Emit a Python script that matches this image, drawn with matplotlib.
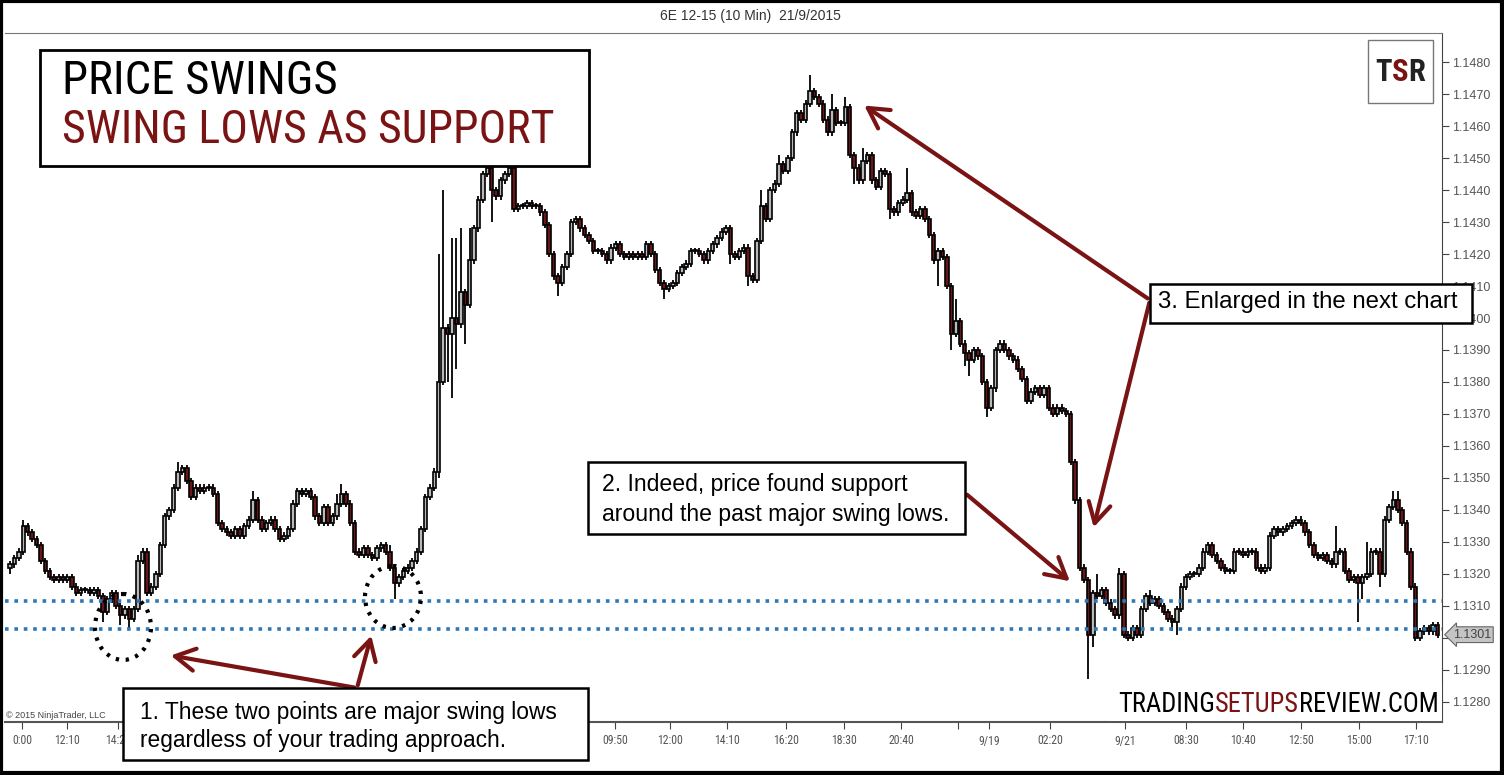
import matplotlib
matplotlib.use("Agg")
import matplotlib.pyplot as plt
from matplotlib import font_manager
from matplotlib.patches import Rectangle, Ellipse, FancyArrowPatch
import numpy as np

# ---- data (pips above 1.1300, one value per 10-min bar) ----
close_pips = [23, 25, 27, 35, 33, 31, 29, 24, 21, 19, 18, 19, 18, 19, 16, 14, 15, 15, 14, 15,
              13, 8, 12, 14, 10, 7, 9, 6, 9, 24, 27, 14, 16, 20, 29, 38, 40, 47, 52, 53,
              49, 44, 47, 46, 47, 47, 45, 36, 34, 33, 32, 34, 32, 35, 37, 43, 37, 34, 36, 37,
              34, 31, 32, 34, 42, 46, 45, 46, 44, 38, 36, 41, 36, 38, 42, 45, 42, 36, 27, 26,
              28, 26, 25, 28, 29, 27, 22, 17, 19, 21, 22, 24, 27, 34, 44, 47, 52, 80, 97, 95,
              100, 98, 108, 104, 118, 128, 137, 145, 147, 140, 138, 143, 145, 147, 134, 135, 135, 136, 135, 135,
              133, 129, 120, 113, 111, 116, 120, 130, 131, 128, 126, 124, 121, 121, 120, 118, 122, 123, 120, 119,
              120, 119, 120, 119, 123, 120, 115, 111, 109, 110, 111, 114, 116, 117, 121, 121, 120, 118, 121, 123,
              125, 127, 128, 120, 119, 121, 122, 113, 112, 124, 135, 131, 140, 142, 148, 146, 150, 158, 164, 162,
              167, 171, 169, 167, 162, 158, 165, 161, 161, 166, 151, 147, 143, 149, 151, 143, 141, 146, 145, 134,
              133, 136, 137, 139, 133, 132, 134, 131, 126, 118, 121, 119, 110, 95, 99, 92, 89, 87, 90, 88,
              80, 72, 78, 90, 92, 90, 88, 87, 84, 81, 74, 77, 78, 76, 78, 72, 70, 72, 71, 70,
              55, 43, 22, 18, 1, 14, 13, 15, 11, 9, 7, 20, 1, 0, 3, 1, 9, 13, 11, 12,
              10, 8, 6, 5, 9, 16, 19, 20, 20, 22, 27, 29, 26, 24, 22, 21, 21, 27, 27, 26,
              27, 27, 22, 21, 22, 32, 34, 33, 34, 35, 36, 37, 36, 33, 29, 26, 25, 26, 24, 23,
              27, 27, 21, 18, 19, 17, 19, 20, 27, 27, 20, 37, 41, 43, 40, 36, 27, 16, 0, 2,
              3, 2, 4, 1]
first_open = 22

# extra wick length beyond the body (pips); other bars get 1 pip
wick_up = {3: 2, 29: 2, 38: 3, 55: 3, 74: 3, 75: 3, 86: 2, 97: 40, 98: 43, 100: 25,
           101: 25, 102: 20, 104: 10, 170: 5, 174: 3, 181: 5, 186: 5, 189: 3, 193: 4,
           203: 8, 214: 7, 246: 6, 251: 2, 258: 2, 300: 8, 307: 10, 313: 3, 314: 3}
wick_dn = {0: 2, 21: 3, 25: 3, 27: 3, 87: 5, 97: 2, 99: 15, 100: 20, 101: 14, 103: 12,
           109: 10, 124: 4, 148: 3, 163: 3, 167: 3, 191: 5, 199: 3, 210: 8, 213: 5,
           216: 4, 217: 5, 221: 3, 244: 14, 245: 4, 263: 3, 264: 4, 305: 12, 306: 5, 310: 4}

support_levels = [1.13115, 1.13027]
last_price = 1.1301

time_ticks = [2.7, 12.9, 24.4, 136.9, 149.3, 162.2, 175.5, 188.6, 201.7, 214.6,
              221.5, 235.3, 252.3, 266.1, 279.0, 292.1, 305.2, 318.1]
time_labels = ["0:00", "12:10", "14:20", "09:50", "12:00", "14:10", "16:20", "18:30", "20:40", "",
               "9/19", "02:20", "9/21", "08:30", "10:40", "12:50", "15:00", "17:10"]
price_ticks = np.round(np.arange(1.1280, 1.14801, 0.0010), 4)

# ---- styles ----
RED = "#7a1414"
UP_FILL = "#b9b9b9"
DN_FILL = "#6a1616"
BLUE = "#2f78b8"

avail = {f.name for f in font_manager.fontManager.ttflist}


def pick(cands):
    found = [c for c in cands if c in avail]
    return found[:1] + ["DejaVu Sans"]


NARROW = pick(["Liberation Sans Narrow", "Arial Narrow", "Roboto Condensed", "Open Sans Condensed",
               "Noto Sans Condensed", "DejaVu Sans Condensed", "Liberation Sans"])
SANS = pick(["Liberation Sans", "Arial"])

W, H = 1504, 775
fig = plt.figure(figsize=(W / 100, H / 100), dpi=100)
fig.patch.set_facecolor("white")

# main price panel (pixel box: x 5..1442, y 33..722)
ax = fig.add_axes([5 / W, 1 - 722 / H, (1442 - 5) / W, (722 - 33) / H])

closes = 1.1300 + np.array(close_pips) / 10000.0
opens = np.concatenate([[1.1300 + first_open / 10000.0], closes[:-1]])
idx = np.arange(len(closes))
up_ext = np.array([wick_up.get(i, 1) for i in idx]) / 10000.0
dn_ext = np.array([wick_dn.get(i, 1) for i in idx]) / 10000.0
highs = np.maximum(opens, closes) + up_ext
lows = np.minimum(opens, closes) - dn_ext

ax.vlines(idx, lows, highs, color="black", linewidth=1.3, zorder=2)
body_bot = np.minimum(opens, closes)
body_h = np.maximum(np.abs(closes - opens), 0.00003)
fills = [UP_FILL if c >= o else DN_FILL for o, c in zip(opens, closes)]
ax.bar(idx, body_h, bottom=body_bot, width=0.78, color=fills,
       edgecolor="black", linewidth=1.2, zorder=3)

for lvl in support_levels:
    ax.axhline(lvl, color=BLUE, linewidth=2.6, linestyle=(0, (1, 1.6)), zorder=4)

ax.set_xlim(-1.13, 324.0)
ax.set_ylim(1.12737, 1.14891)

ax.yaxis.tick_right()
ax.set_yticks(price_ticks)
# the 1.1300 label sits under the last-price marker
ax.set_yticklabels(["" if abs(p - 1.13) < 1e-6 else "%.4f" % p for p in price_ticks])
ax.set_xticks(time_ticks)
ax.set_xticklabels(time_labels)
ax.tick_params(axis="y", direction="out", length=5, width=0.8, color="#444444",
               labelsize=9, labelcolor="#555555", pad=2)
ax.tick_params(axis="x", direction="out", length=5, width=0.8, color="#444444",
               labelsize=8.5, labelcolor="#555555", pad=4)
for lab in ax.get_xticklabels():
    lab.set_family(NARROW)
for lab in ax.get_yticklabels():
    lab.set_family(SANS)
ax.spines["left"].set_visible(False)
ax.spines["top"].set_color("#777777")
ax.spines["bottom"].set_color("#555555")
ax.spines["right"].set_color("#444444")
ax.spines["bottom"].set_linewidth(1.5)

# last price marker on the axis
ax.annotate("%.4f" % last_price, xy=(1.0, last_price), xycoords=("axes fraction", "data"),
            xytext=(8, 0), textcoords="offset points", va="center", ha="left",
            fontsize=9, color="#444444", family=SANS,
            bbox=dict(boxstyle="larrow,pad=0.15", fc="#c4c4c4", ec="#666666", lw=0.8))

# ---- overlay in pixel coordinates ----
ov = fig.add_axes([0, 0, 1, 1], zorder=5)
ov.set_xlim(0, W)
ov.set_ylim(H, 0)
ov.axis("off")
ov.patch.set_alpha(0)
renderer = fig.canvas.get_renderer()


def fit_runs(x, y, runs, width, family, weight="normal", zorder=8):
    """Place coloured text runs side by side, sized so they span `width` pixels."""
    texts = [ov.text(x, y, s, ha="left", va="center", fontsize=20, color=c,
                     family=family, fontweight=weight, zorder=zorder) for s, c in runs]
    total = sum(t.get_window_extent(renderer).width for t in texts)
    fs = 20 * width / total
    cx = x
    for t in texts:
        t.set_fontsize(fs)
        t.set_x(cx)
        cx += t.get_window_extent(renderer).width
    return fs


# outer frame and header strip
ov.add_patch(Rectangle((1, 1), W - 3, H - 3, fill=False, ec="black", lw=3))
ov.text(750, 16, "6E 12-15 (10 Min)  21/9/2015", ha="center", va="center",
        fontsize=10, color="#333333", family=SANS)
ov.text(6, 716, "© 2015 NinjaTrader, LLC", ha="left", va="center", fontsize=6.5,
        color="#444444", family=SANS)

# title box
ov.add_patch(Rectangle((40, 50), 549, 116, fc="white", ec="black", lw=2))
fit_runs(62, 81, [("PRICE SWINGS", "black")], 275, NARROW)
fit_runs(62, 130, [("SWING LOWS AS SUPPORT", RED)], 493, NARROW)

# TSR logo
ov.add_patch(Rectangle((1368, 40), 65, 63, fc="white", ec="#777777", lw=1))
fit_runs(1375, 72, [("T", "#222222"), ("S", RED), ("R", "#222222")], 50, NARROW, weight="bold")

# site banner
ov.add_patch(Rectangle((1110, 684), 332, 37, fc="white", ec="none"))
fit_runs(1118, 704, [("TRADING", "black"), ("SETUPS", RED), ("REVIEW.COM", "black")], 321, NARROW)

# dotted circles around the swing lows
for cx, cy, ew, eh in [(123, 627, 56, 66), (393, 597, 56, 62)]:
    ov.add_patch(Ellipse((cx, cy), ew, eh, fill=False, ec="black", lw=3,
                         linestyle=(0, (0.8, 1.6))))

# arrows
arrows = [((357, 688), (168, 655)), ((357, 688), (372, 633)),
          ((965, 493), (1072, 583)), ((1150, 300), (862, 104)),
          ((1150, 300), (1093, 530))]
for tail, head in arrows:
    ov.add_patch(FancyArrowPatch(tail, head, arrowstyle="->,head_width=5,head_length=9",
                                 mutation_scale=1.6, color=RED, lw=3, zorder=6))

# annotation boxes: (box x, y, w, h), text lines, text x, line centres, width of first line
notes = [((123, 688, 465, 72), ["1. These two points are major swing lows",
                                 "regardless of your trading approach."], 140, [713, 740], 415),
         ((588, 462, 377, 72), ["2. Indeed, price found support",
                                 "around the past major swing lows."], 602, [485, 514], 304),
         ((1150, 284, 322, 39), ["3. Enlarged in the next chart"], 1158, [302], 300)]
for (bx, by, bw, bh), lines, tx, ys, w0 in notes:
    ov.add_patch(Rectangle((bx, by), bw, bh, fc="white", ec="black", lw=1.8, zorder=7))
    fs = fit_runs(tx, ys[0], [(lines[0], "black")], w0, SANS)
    for line, ly in zip(lines[1:], ys[1:]):
        ov.text(tx, ly, line, ha="left", va="center", fontsize=fs, color="black",
                family=SANS, zorder=8)

fig.savefig("out.png", dpi=100)
